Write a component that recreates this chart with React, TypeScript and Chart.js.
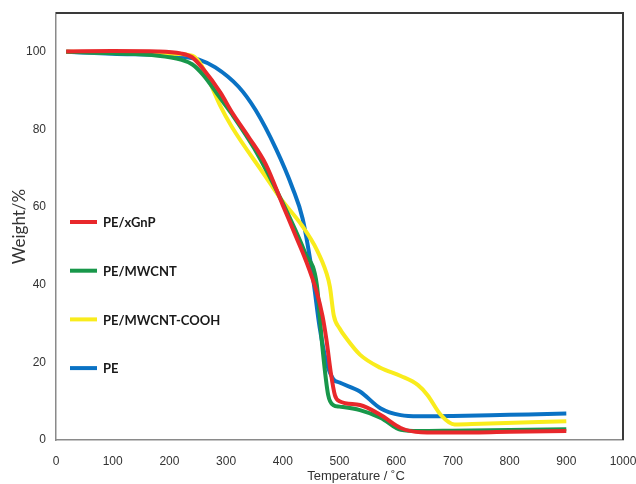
import React, { useEffect, useRef } from "react";
import { Chart, registerables } from "chart.js";

Chart.register(...registerables);

// ---- Data ----
const seriesNames = ["PE/xGnP", "PE/MWCNT", "PE/MWCNT-COOH", "PE"];
const seriesColors = ["#e8282b", "#18974a", "#f9ec1c", "#0a72c4"];

const xGnPTemp = [18, 100, 180, 220, 240, 260, 290, 310, 340, 370, 400, 423, 440, 459, 470, 477, 485, 492, 500, 536, 572, 608, 644, 700, 800, 900];
const xGnPWeight = [100.1, 100.2, 100.1, 99.6, 98.6, 95.5, 89.5, 84.5, 78, 71, 60.5, 52.5, 46.5, 38.5, 32, 25.8, 17, 11.5, 10, 9, 6.5, 3.1, 2, 1.9, 2.1, 2.3];

const mwcntTemp = [18, 100, 180, 220, 240, 260, 290, 310, 350, 400, 440, 460, 470, 480, 489, 500, 536, 573, 608, 640, 700, 800, 900];
const mwcntWeight = [100, 99.6, 99, 98, 96.8, 94, 88, 84, 75, 61, 48, 40, 23.7, 11.6, 9, 8.6, 7.7, 5.7, 2.6, 2.3, 2.4, 2.6, 2.8];

const coohTemp = [18, 100, 200, 240, 252, 264, 290, 310, 370, 394, 435, 460, 477, 483, 490, 500, 512, 536, 572, 608, 638, 655, 679, 703, 750, 900];
const coohWeight = [100, 99.8, 99.5, 99, 97.5, 94.5, 86, 80.7, 67.8, 62.6, 55, 49, 43, 39.5, 32, 28.8, 26.2, 22, 18.6, 16.5, 14.2, 11.6, 6.4, 4, 4.2, 4.8];

const peTemp = [18, 100, 200, 230, 252, 281, 322, 352, 388, 417, 435, 453, 465, 477, 489, 500, 536, 572, 608, 640, 700, 800, 900];
const peWeight = [100, 99.5, 99, 98.6, 98, 96, 91, 85, 75, 65, 57, 42, 29, 20, 15.7, 14.8, 12.5, 8.2, 6.4, 6.1, 6.2, 6.5, 6.8];

const xTicks = [0, 100, 200, 300, 400, 500, 600, 700, 800, 900, 1000];
const yTicks = [0, 20, 40, 60, 80, 100];
const xTitle = "Temperature / ˚C";
const yTitle = "Weight/%";

const allTemps = [xGnPTemp, mwcntTemp, coohTemp, peTemp];
const allWeights = [xGnPWeight, mwcntWeight, coohWeight, peWeight];

const tickFont = { family: "'Liberation Sans', Arial, sans-serif", size: 12 };

const legendPlugin = {
  id: "customLegend",
  afterDraw(chart: any) {
    const ctx = chart.ctx;
    ctx.save();
    chart.data.datasets.forEach((ds: any, i: number) => {
      const y = 222 + i * 48.7;
      ctx.strokeStyle = ds.borderColor;
      ctx.lineWidth = 4;
      ctx.lineCap = "butt";
      ctx.beginPath();
      ctx.moveTo(70, y);
      ctx.lineTo(97, y);
      ctx.stroke();
      ctx.fillStyle = "#1a1a1a";
      ctx.font = "bold 13px Lato, 'Liberation Sans', sans-serif";
      ctx.textBaseline = "middle";
      ctx.textAlign = "left";
      ctx.fillText(ds.label, 103, y + 1);
    });
    ctx.restore();
  },
};

const boxPlugin = {
  id: "boxPlugin",
  afterDraw(chart: any) {
    const { ctx, chartArea } = chart;
    ctx.save();
    ctx.strokeStyle = "#3a3a3a";
    ctx.lineWidth = 2;
    ctx.beginPath();
    ctx.moveTo(chartArea.left, chartArea.top);
    ctx.lineTo(chartArea.right, chartArea.top);
    ctx.lineTo(chartArea.right, chartArea.bottom);
    ctx.stroke();
    // x-axis title (offset right like the reference)
    ctx.fillStyle = "#333";
    ctx.font = "13px 'Liberation Sans', Arial, sans-serif";
    ctx.textAlign = "center";
    ctx.textBaseline = "middle";
    ctx.fillText(xTitle, 356, 476);
    ctx.restore();
  },
};

export default function App() {
  const canvasRef = useRef<HTMLCanvasElement | null>(null);

  useEffect(() => {
    document.body.style.margin = "0";
    const canvas = canvasRef.current;
    if (!canvas) return;
    const datasets = seriesNames.map((name, i) => ({
      label: name,
      data: allTemps[i].map((t, j) => ({ x: t, y: allWeights[i][j] })),
      borderColor: seriesColors[i],
      backgroundColor: seriesColors[i],
      borderWidth: 4,
      pointRadius: 0,
      tension: 0.4,
      cubicInterpolationMode: "monotone" as const,
      fill: false,
    }));

    const chart = new Chart(canvas, {
      type: "line",
      data: { datasets },
      options: {
        animation: false,
        responsive: false,
        devicePixelRatio: 1,
        layout: { padding: { top: 13, right: 13, left: 0, bottom: 0 } },
        plugins: { legend: { display: false }, tooltip: { enabled: false } },
        scales: {
          x: {
            type: "linear",
            min: 0,
            max: 1000,
            afterBuildTicks: (s: any) => {
              s.ticks = xTicks.map((v) => ({ value: v }));
            },
            afterFit: (s: any) => {
              s.height = 44;
              s.paddingLeft = 0;
              s.paddingRight = 0;
            },
            grid: { display: false, drawTicks: false },
            border: { display: true, color: "#8a8a8a", width: 1.5 },
            ticks: {
              padding: 14,
              font: tickFont,
              color: "#333",
              maxRotation: 0,
              autoSkip: false,
              callback: (v: any) => String(v),
            },
            title: { display: false },
          },
          y: {
            type: "linear",
            min: 0,
            max: 110,
            afterBuildTicks: (s: any) => {
              s.ticks = yTicks.map((v) => ({ value: v }));
            },
            afterFit: (s: any) => {
              s.width = 56;
              s.paddingTop = 0;
              s.paddingBottom = 0;
            },
            grid: { display: false, drawTicks: false },
            border: { display: true, color: "#8a8a8a", width: 1.5 },
            ticks: { padding: 10, font: tickFont, color: "#333", callback: (v: any) => String(v) },
            title: {
              display: true,
              text: yTitle,
              color: "#333",
              font: { family: "Lato, 'Liberation Sans', sans-serif", size: 17 },
              padding: { top: 9, bottom: 0 },
            },
          },
        },
      },
      plugins: [legendPlugin, boxPlugin],
    });
    return () => chart.destroy();
  }, []);

  return (
    <div style={{ width: 636, height: 484 }}>
      <canvas ref={canvasRef} width={636} height={484} />
    </div>
  );
}
